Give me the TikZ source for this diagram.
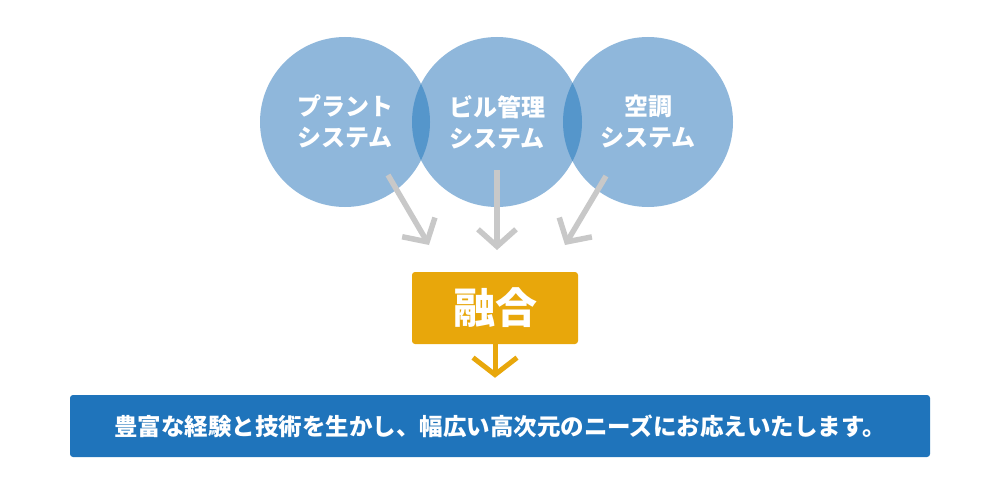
\documentclass[tikz,border=0pt]{standalone}
\usepackage{fontspec}
\newfontfamily\jpfont{Noto Sans CJK JP}
\usepackage{tikz}
\usetikzlibrary{arrows.meta,positioning,calc}
\definecolor{CircleBlue}{RGB}{143,183,219}
\definecolor{OverlapBlue}{RGB}{85,150,203}
\definecolor{ArrowGray}{RGB}{200,200,200}
\definecolor{FusionOrange}{RGB}{232,167,11}
\definecolor{MessageBlue}{RGB}{31,116,187}
\tikzset{
  syscircle/.style ={circle, fill=CircleBlue, minimum size=170pt, inner sep=0pt,
                     text=white, align=center, font=\jpfont\bfseries\fontsize{24pt}{31pt}\selectfont},
  fusionbox/.style ={rectangle, rounded corners=3pt, fill=FusionOrange, text=white,
                     minimum width=166pt, minimum height=72pt,
                     font=\jpfont\bfseries\fontsize{42pt}{44pt}\selectfont},
  msgbox/.style    ={rectangle, rounded corners=3pt, fill=MessageBlue, text=white,
                     minimum width=860pt, minimum height=62pt,
                     font=\jpfont\bfseries\fontsize{23.5pt}{26pt}\selectfont},
  arrgray/.style   ={-{Straight Barb[length=17pt,width=38pt]}, draw=ArrowGray, line width=5.5pt},
  arrorange/.style ={-{Straight Barb[length=17pt,width=44pt]}, draw=FusionOrange, line width=5pt},
}
\begin{document}
\begin{tikzpicture}[x=1pt,y=-1pt]
  \useasboundingbox (0,0) rectangle (1000,500);
  \node[syscircle] (plant) at (345,122) {プラント\\システム};
  \node[syscircle] (bldg)  at (497,122) {ビル管理\\システム};
  \node[syscircle] (hvac)  at (648,122) {空調\\システム};
  % overlaps
  \begin{scope}
    \clip (plant.center) circle (85);
    \fill[OverlapBlue] (bldg.center) circle (85);
  \end{scope}
  \begin{scope}
    \clip (bldg.center) circle (85);
    \fill[OverlapBlue] (hvac.center) circle (85);
  \end{scope}
  \node[fusionbox] (fusion) at (495,308) {融合};
  \node[msgbox] (msg) at (500,426) {豊富な経験と技術を生かし、幅広い高次元のニーズにお応えいたします。};
  \coordinate (s1) at (388,175);
  \coordinate (e1) at (429,245);
  \coordinate (s2) at (497,170);
  \coordinate (e2) at (497,250);
  \coordinate (s3) at (606,176);
  \coordinate (e3) at (565,245);
  \foreach \a/\b in {s1/e1,s2/e2,s3/e3}{\draw[arrgray] (\a) -- (\b);}
  \draw[arrorange,shorten >=17pt] (fusion.south) -- (fusion.south |- msg.north);
\end{tikzpicture}
\end{document}
